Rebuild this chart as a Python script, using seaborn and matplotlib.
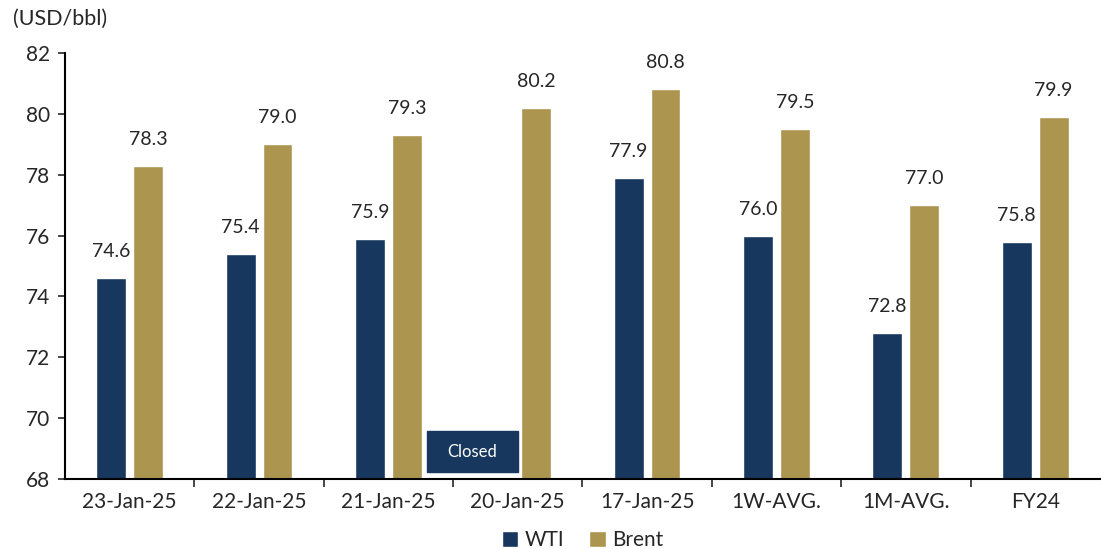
import pandas as pd
import numpy as np
import seaborn as sns
import matplotlib.pyplot as plt
from matplotlib.patches import Rectangle

sns.set_style("white")
plt.rcParams['font.family'] = ['Lato', 'DejaVu Sans']

# data
dates = ['23-Jan-25', '22-Jan-25', '21-Jan-25', '20-Jan-25',
         '17-Jan-25', '1W-AVG.', '1M-AVG.', 'FY24']
wti = [74.6, 75.4, 75.9, np.nan, 77.9, 76.0, 72.8, 75.8]
brent = [78.3, 79.0, 79.3, 80.2, 80.8, 79.5, 77.0, 79.9]

navy = '#17375e'
gold = '#ac954f'

df = pd.DataFrame({'date': dates * 2,
                   'price': wti + brent,
                   'crude': ['WTI'] * len(dates) + ['Brent'] * len(dates)})

fig = plt.figure(figsize=(11.01, 5.49), dpi=100)
ax = fig.add_axes([0.059, 0.1275, 0.94, 0.776])

sns.barplot(data=df, x='date', y='price', hue='crude',
            palette={'WTI': navy, 'Brent': gold}, saturation=1,
            width=0.57, gap=0.19, ax=ax, legend=True)

ax.set_ylim(68, 82)
ax.set_xlim(-0.5, len(dates) - 0.5)
ax.set_yticks(range(68, 83, 2))
ax.set_xlabel('')
ax.set_ylabel('')

# value labels
for cont in ax.containers:
    labels = ['' if np.isnan(v) else f'{v:.1f}' for v in cont.datavalues]
    ax.bar_label(cont, labels=labels, padding=13, fontsize=14)

# "Closed" marker for the holiday
ax.add_patch(Rectangle((2.3, 68.23), 0.7, 1.35, color=navy, zorder=3))
ax.text(2.65, 68.9, 'Closed', color='white', ha='center', va='center',
        fontsize=12, zorder=4)

sns.despine(ax=ax)
for s in ['left', 'bottom']:
    ax.spines[s].set_color('black')
    ax.spines[s].set_linewidth(1.5)

ax.tick_params(axis='y', which='major', left=True, length=5, width=1.2,
               labelsize=15, pad=6)
ax.tick_params(axis='x', which='major', bottom=False, labelsize=15, pad=6)
ax.set_xticks(np.arange(0.5, len(dates) - 0.5), minor=True)
ax.tick_params(axis='x', which='minor', bottom=True, length=6, width=1.2)

ax.text(-0.05, 1.08, '(USD/bbl)', transform=ax.transAxes, fontsize=15.5,
        ha='left', va='center')

ax.legend(loc='center', bbox_to_anchor=(0.5, -0.143), ncol=2,
          frameon=False, fontsize=15, handlelength=0.8, handleheight=0.8,
          handletextpad=0.3, columnspacing=1.2, borderpad=0)

plt.savefig('out.png', dpi=100)
